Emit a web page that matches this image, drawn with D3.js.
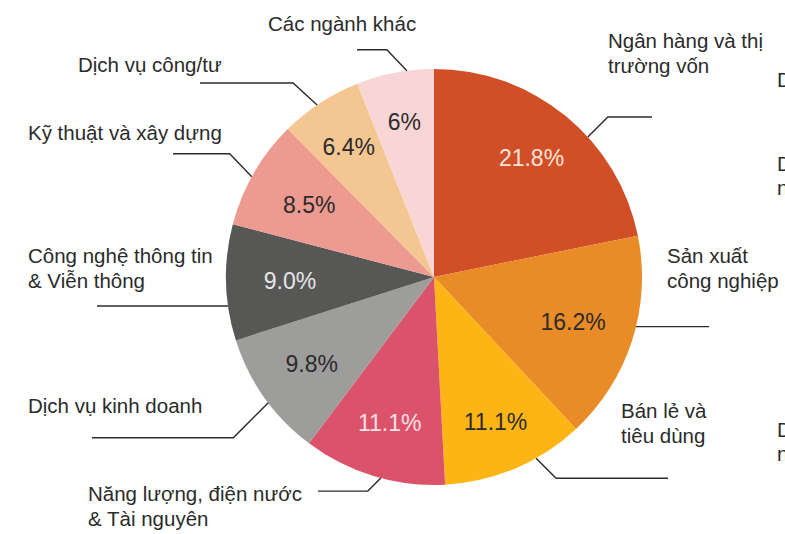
<!DOCTYPE html>
<html>
<head>
<meta charset="utf-8">
<script src="https://cdn.jsdelivr.net/npm/d3@7/dist/d3.min.js"></script>
<style>
  html, body { margin: 0; padding: 0; background: #fff; }
  svg { display: block; font-family: "Liberation Sans", Arial, Helvetica, sans-serif; }
</style>
</head>
<body>
<svg id="chart" width="785" height="534"></svg>
<script>
// ---- data ----
const categories = [
  "Ngân hàng và thị trường vốn",
  "Sản xuất công nghiệp",
  "Bán lẻ và tiêu dùng",
  "Năng lượng, điện nước & Tài nguyên",
  "Dịch vụ kinh doanh",
  "Công nghệ thông tin & Viễn thông",
  "Kỹ thuật và xây dựng",
  "Dịch vụ công/tư",
  "Các ngành khác"
];
const values = [21.8, 16.2, 11.1, 11.1, 9.8, 9.0, 8.5, 6.4, 6];
const valueLabels = ["21.8%", "16.2%", "11.1%", "11.1%", "9.8%", "9.0%", "8.5%", "6.4%", "6%"];
const labelLines = [
  ["Ngân hàng và thị", "trường vốn"],
  ["Sản xuất", "công nghiệp"],
  ["Bán lẻ và", "tiêu dùng"],
  ["Năng lượng, điện nước", "& Tài nguyên"],
  ["Dịch vụ kinh doanh"],
  ["Công nghệ thông tin", "& Viễn thông"],
  ["Kỹ thuật và xây dựng"],
  ["Dịch vụ công/tư"],
  ["Các ngành khác"]
];

// ---- styling / layout ----
const colors = ["#d04f27", "#e98b27", "#fdb515", "#db536b", "#9d9d9c", "#575756", "#ed9a91", "#f4c691", "#f9d6d6"];
const pctColors = ["#fbe3da", "#2b2b2b", "#2b2b2b", "#fbe0e5", "#2b2b2b", "#e6e6e6", "#2b2b2b", "#2b2b2b", "#2b2b2b"];
const pctRadius = [154, 146, 157, 152, 150, 144, 144, 156, 158];
// leader: angle on rim (deg), diagonal offset [dx,dy], horizontal end x, text x, first baseline y
const leader = [
  { a: 47.7,  d: [20, -20], ex: 652, tx: 608, ty: 48 },
  { a: 103.8, d: [0, 0],    ex: 709, tx: 667, ty: 263 },
  { a: 150.6, d: [20, 20],  ex: 668, tx: 621, ty: 418 },
  { a: 194.8, d: [-13, 13], ex: 318, tx: 88,  ty: 501 },
  { a: 232.8, d: [-35, 35], ex: 92,  tx: 28,  ty: 413 },
  { a: 262,   d: [0, 0],    ex: 97,  tx: 28,  ty: 263 },
  { a: 298.8, d: [-22, -23],ex: 173, tx: 28,  ty: 140 },
  { a: 325.8, d: [-24, -22],ex: 200, tx: 78,  ty: 72 },
  { a: 352.5, d: [-20, -21],ex: 357, tx: 268, ty: 31 }
];
const cx = 434, cy = 277, R = 208;
const lineH = 24.5;

const svg = d3.select("#chart");
const g = svg.append("g").attr("transform", `translate(${cx},${cy})`);

const pie = d3.pie().sort(null).value(d => d);
const arcs = pie(values);
const arc = d3.arc().innerRadius(0).outerRadius(R);

g.selectAll("path.slice")
  .data(arcs)
  .join("path")
  .attr("class", "slice")
  .attr("d", arc)
  .attr("fill", (d, i) => colors[i]);

g.selectAll("text.pct")
  .data(arcs)
  .join("text")
  .attr("class", "pct")
  .attr("transform", (d, i) => {
    const la = d3.arc().innerRadius(pctRadius[i]).outerRadius(pctRadius[i]);
    return `translate(${la.centroid(d)})`;
  })
  .attr("text-anchor", "middle")
  .attr("dy", "0.36em")
  .attr("font-size", 23)
  .attr("fill", (d, i) => pctColors[i])
  .text((d, i) => valueLabels[i]);

// leader lines
const toRad = Math.PI / 180;
svg.selectAll("path.leader")
  .data(leader)
  .join("path")
  .attr("class", "leader")
  .attr("fill", "none")
  .attr("stroke", "#2b2b2b")
  .attr("stroke-width", 1.4)
  .attr("d", l => {
    const p = d3.pointRadial(l.a * toRad, R);
    const x0 = cx + p[0], y0 = cy + p[1];
    const x1 = x0 + l.d[0], y1 = y0 + l.d[1];
    return d3.line()([[x0, y0], [x1, y1], [l.ex, y1]]);
  });

// category labels
svg.selectAll("text.cat")
  .data(leader)
  .join("text")
  .attr("class", "cat")
  .attr("x", l => l.tx)
  .attr("y", l => l.ty)
  .attr("font-size", 20.5)
  .attr("fill", "#2b2b2b")
  .each(function (l, i) {
    d3.select(this).selectAll("tspan")
      .data(labelLines[i])
      .join("tspan")
      .attr("x", l.tx)
      .attr("dy", (s, j) => j === 0 ? 0 : lineH)
      .text(s => s);
  });

// partially visible labels at the right edge (cut off in the reference too)
const edgeTexts = [["D", 87], ["D", 171], ["n", 195], ["D", 437], ["n", 461]];
svg.selectAll("text.edge")
  .data(edgeTexts)
  .join("text")
  .attr("class", "edge")
  .attr("x", 777)
  .attr("y", d => d[1])
  .attr("font-size", 20.5)
  .attr("fill", "#2b2b2b")
  .text(d => d[0]);
</script>
</body>
</html>
